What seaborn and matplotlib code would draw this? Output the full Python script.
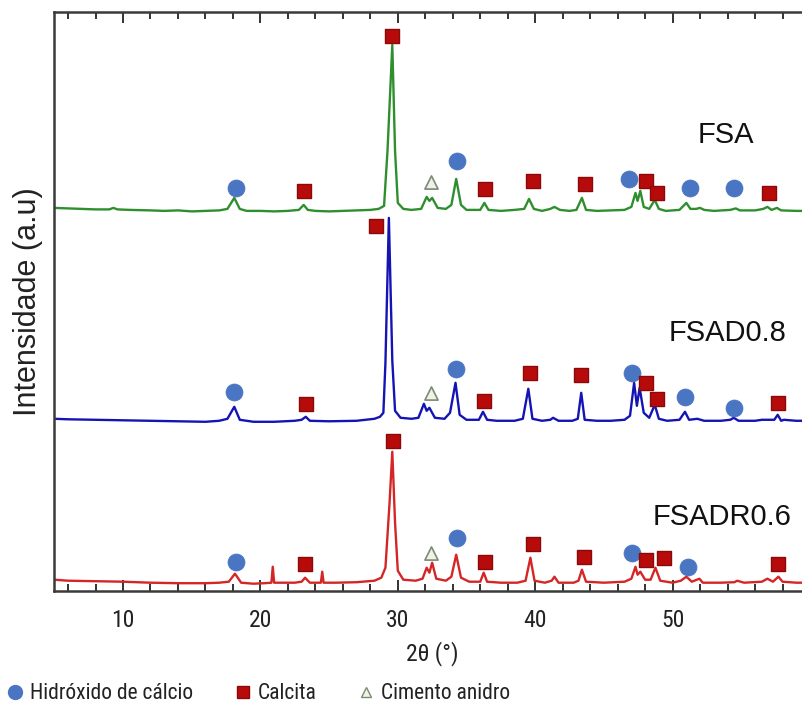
import numpy as np
import pandas as pd
import matplotlib
matplotlib.use("Agg")
import matplotlib.pyplot as plt
from matplotlib import font_manager
from matplotlib.font_manager import FontProperties
from matplotlib.lines import Line2D
import seaborn as sns

# ---------------------------------------------------------------- data
# Diffractogram traces: 2theta (deg) and intensity above each trace's baseline
fsa_2theta = [5.0, 6.0, 7.0, 8.0, 9.0, 9.3, 9.6, 10.5, 12.0, 13.0, 14.0, 15.0, 16.0, 17.0,
              17.6, 18.1, 18.5, 19.0, 20.0, 21.0, 22.0, 22.8, 23.15, 23.45, 24.0, 25.0,
              26.0, 27.0, 28.0, 28.6, 29.0, 29.25, 29.6, 29.8, 30.0, 30.4, 31.0, 31.7,
              32.1, 32.3, 32.5, 32.9, 33.5, 33.9, 34.25, 34.6, 35.0, 36.0, 36.3, 36.6,
              37.5, 38.5, 39.2, 39.55, 39.9, 40.5, 41.1, 41.4, 41.8, 42.5, 43.0, 43.4,
              43.7, 44.5, 45.5, 46.5, 47.0, 47.3, 47.45, 47.65, 47.9, 48.3, 48.7, 49.0,
              49.5, 50.5, 51.0, 51.3, 51.7, 52.0, 52.3, 53.0, 54.2, 54.6, 54.9, 56.0,
              56.6, 56.9, 57.2, 57.6, 57.9, 59.0, 60.0]
fsa_counts = [3, 2.5, 2, 1.5, 1.5, 3, 1.5, 1, 0.5, 0, 0.5, -0.5, 0, 0.5,
              2, 13, 2, 0, 0, -0.5, 0, 1, 6, 1, 0, -0.5,
              0, 0.5, 1, 2, 5, 60, 166, 60, 8, 2, 1, 2,
              14, 10, 13, 3, 2, 6, 32, 6, 1, 1, 8, 1,
              0, 1, 2, 12, 2, 0, 2, 4, 1, 0, 1, 13,
              1, 0, 0.5, 1, 4, 18, 10, 20, 4, 2, 11, 2,
              0, 1, 8, 2, 2, 3, 1, 0, 1, 2.5, 0.5, 0.5,
              2, 4, 1, 3, 0.5, 0, 0]

fsad_2theta = [5.0, 6.0, 8.0, 10.0, 12.0, 14.0, 16.0, 17.0, 17.6, 18.1, 18.5, 19.5, 21.0,
               22.5, 23.0, 23.3, 23.6, 25.0, 27.0, 28.3, 28.7, 28.95, 29.1, 29.35,
               29.6, 29.8, 30.2, 31.0, 31.5, 31.9, 32.1, 32.3, 32.7, 33.4, 33.8, 34.2,
               34.5, 35.0, 35.9, 36.2, 36.5, 37.2, 38.5, 39.1, 39.5, 39.8, 40.5, 41.1,
               41.3, 41.7, 42.7, 43.1, 43.35, 43.6, 44.5, 45.5, 46.5, 46.9, 47.2, 47.4,
               47.6, 47.9, 48.3, 48.7, 49.0, 49.6, 50.5, 50.9, 51.2, 51.8, 52.3, 53.5,
               54.2, 54.45, 54.8, 56.0, 56.5, 57.4, 57.65, 57.9, 58.1, 59.0, 60.0]
fsad_counts = [2, 1.5, 1, 0.5, 0, -0.5, -1, 0, 2, 14, 1, -1, -1,
               0, 1, 4, 0, -0.5, 0, 2, 4, 8, 58, 203,
               60, 10, 3, 2, 3, 17, 10, 13, 3, 2, 8, 38,
               6, 1, 1, 9, 1, 0, 0, 2, 32, 2, 0, 1,
               3, 0, 0, 2, 28, 1, 0, 0, 1, 5, 38, 15,
               33, 8, 3, 16, 2, 0, 1, 9, 1, 2, 0, 0,
               1, 3, 0, 0, 1, 1, 6, 0, 1, 0, 0]

fsadr_2theta = [5.0, 6.0, 8.0, 10.0, 12.0, 14.0, 16.0, 17.0, 17.7, 18.15, 18.6, 19.5, 20.3,
                20.8, 20.9, 21.0, 22.5, 23.0, 23.25, 23.6, 24.4, 24.5, 24.6, 25.5, 27.0,
                28.3, 28.8, 29.1, 29.4, 29.6, 29.8, 30.0, 30.4, 31.3, 31.8, 32.1, 32.3,
                32.5, 32.8, 33.5, 33.9, 34.25, 34.6, 35.2, 36.0, 36.25, 36.5, 37.5, 38.7,
                39.3, 39.65, 39.95, 40.7, 41.2, 41.4, 41.7, 42.8, 43.15, 43.4, 43.7, 45.0,
                46.5, 47.0, 47.3, 47.45, 47.65, 48.0, 48.4, 48.75, 49.1, 50.0, 50.6, 51.0,
                51.4, 51.95, 52.2, 53.5, 54.5, 54.7, 55.2, 56.5, 56.9, 57.3, 57.7, 58.0,
                59.0, 60.0]
fsadr_counts = [3, 2, 1.5, 1, 0, -0.5, -0.5, 0, 1, 9, 0, -1, -0.5,
                0, 16, 0, 0, 1, 5, 0, 0, 11, 0, 0, 0.5,
                2, 5, 15, 80, 131, 60, 12, 3, 2, 4, 15, 10,
                20, 4, 2, 6, 28, 5, 1, 1, 10, 1, 0, 0,
                2, 25, 2, 0, 2, 6, 0, 0, 2, 13, 1, 0,
                1, 4, 16, 8, 11, 3, 3, 15, 2, 0, 2, 6,
                1, 4, 0, 0, 0.5, 2, 0, 1, 4, 1, 6, 1,
                0, 0]

sample_names = ["FSA", "FSAD0.8", "FSADR0.6"]
stack_offsets = [380, 170, 8]

# Phase identification markers (2theta, stacked intensity)
hidroxido_x = [18.2, 34.3, 46.8, 51.3, 54.5,
               18.1, 34.2, 47.05, 50.9, 54.5,
               18.2, 34.3, 47.05, 51.1]
hidroxido_y = [403, 430, 412, 403, 403,
               199, 222, 218, 194, 183,
               29, 53, 38, 24]

calcita_x = [23.2, 29.6, 36.35, 39.85, 43.6, 48.1, 48.9, 57.0,
             23.3, 28.4, 36.27, 39.6, 43.35, 48.1, 48.9, 57.7,
             23.25, 29.65, 36.35, 39.85, 43.55, 48.05, 49.4, 57.7]
calcita_y = [400, 555, 402, 410, 407, 410, 398, 398,
             187, 365, 190, 218, 216, 208, 192, 188,
             27, 150, 29, 47, 34, 31, 33, 27]

cimento_x = [32.4, 32.4, 32.4]
cimento_y = [409, 198, 38]

legend_labels = ["Hidróxido de cálcio", "Calcita", "Cimento anidro"]
label_pos_x = [53.9, 54.0, 53.6]
label_pos_y = [456, 258, 74]

# ---------------------------------------------------------------- style
sns.set_theme(style="white")
plt.rcParams["font.family"] = ["Liberation Sans", "DejaVu Sans"]


def condensed_font():
    """Pick an installed narrow/condensed sans face for the axis texts."""
    prefs = ["LiberationSansNarrow-Regular", "RobotoCondensed-Regular",
             "DejaVuSansCondensed.", "OpenSans_Condensed-Regular",
             "OpenSansCondensed-Light", "Roboto_Condensed-Regular"]
    files = [f.fname for f in font_manager.fontManager.ttflist]
    for p in prefs:
        for fn in files:
            if p.lower() in fn.lower().replace(" ", ""):
                return FontProperties(fname=fn)
    for fn in files:
        low = fn.lower()
        if ("narrow" in low or "condensed" in low) and "bold" not in low \
                and "italic" not in low and "oblique" not in low and "mono" not in low:
            return FontProperties(fname=fn)
    return FontProperties(family="Liberation Sans")


narrow_fp = condensed_font()

line_colors = ["#2f8f2f", "#1414b4", "#d42626"]
c_circle = "#4a75c2"
c_square = "#b70b0b"
c_square_edge = "#8a0a0a"
c_tri_face = "#eef2e8"
c_tri_edge = "#7d8a74"

frames = []
for name, tt, cnt, off in zip(sample_names,
                              [fsa_2theta, fsad_2theta, fsadr_2theta],
                              [fsa_counts, fsad_counts, fsadr_counts],
                              stack_offsets):
    frames.append(pd.DataFrame({"two_theta": tt,
                                "intensity": np.asarray(cnt, float) + off,
                                "sample": name}))
traces = pd.concat(frames, ignore_index=True)

fig = plt.figure(figsize=(8.03, 7.11), dpi=100)
ax = fig.add_axes([54.3 / 803, 1 - 590.7 / 711, (810 - 54.3) / 803, (590.7 - 12) / 711])

sns.lineplot(data=traces, x="two_theta", y="intensity", hue="sample",
             palette=dict(zip(sample_names, line_colors)), sort=False,
             estimator=None, units="sample", linewidth=1.7, legend=False, ax=ax)

sns.scatterplot(x=hidroxido_x, y=hidroxido_y, marker="o", s=150, color=c_circle,
                edgecolor=c_circle, linewidth=0.5, ax=ax, zorder=5)
sns.scatterplot(x=calcita_x, y=calcita_y, marker="s", s=95, color=c_square,
                edgecolor=c_square_edge, linewidth=1.0, ax=ax, zorder=5)
sns.scatterplot(x=cimento_x, y=cimento_y, marker="^", s=90, color=c_tri_face,
                edgecolor=c_tri_edge, linewidth=1.2, ax=ax, zorder=5)

for name, lx, ly in zip(sample_names, label_pos_x, label_pos_y):
    ax.text(lx, ly, name, ha="center", va="center", fontsize=21,
            color="#111111", family=["Liberation Sans", "DejaVu Sans"])

ax.set_xlim(5, 60)
ax.set_ylim(0, 579)
ax.set_xticks([10, 20, 30, 40, 50])
ax.set_xticks(np.arange(6, 60, 2), minor=True)
ax.set_yticks([])
ax.tick_params(axis="x", which="both", direction="in", top=True, bottom=True,
               labeltop=False, color="#333333", width=1.4)
ax.tick_params(axis="x", which="major", length=8, pad=13)
ax.tick_params(axis="x", which="minor", length=5)
tick_fp = narrow_fp.copy()
tick_fp.set_size(17)
for lbl in ax.get_xticklabels():
    lbl.set_fontproperties(tick_fp)
    lbl.set_color("#222222")

for side in ["left", "top", "bottom"]:
    ax.spines[side].set_color("#3a3a3a")
    ax.spines[side].set_linewidth(1.8)
ax.spines["right"].set_visible(False)

xlab_fp = narrow_fp.copy()
xlab_fp.set_size(17)
ax.set_xlabel("2θ (°)", fontproperties=xlab_fp, color="#222222", labelpad=7)
ax.set_ylabel("Intensidade (a.u)", fontsize=22, color="#222222", labelpad=8,
              family=["Liberation Sans", "DejaVu Sans"])

handles = [
    Line2D([], [], linestyle="none", marker="o", markersize=10,
           markerfacecolor=c_circle, markeredgecolor=c_circle),
    Line2D([], [], linestyle="none", marker="s", markersize=9,
           markerfacecolor=c_square, markeredgecolor=c_square_edge),
    Line2D([], [], linestyle="none", marker="^", markersize=7,
           markerfacecolor=c_tri_face, markeredgecolor=c_tri_edge),
]
leg_fp = narrow_fp.copy()
leg_fp.set_size(15.5)
fig.legend(handles, legend_labels, loc="lower left", bbox_to_anchor=(-0.016, -0.018),
           ncol=3, frameon=False, handlelength=0.8, handletextpad=0.3,
           columnspacing=1.9, prop=leg_fp, labelcolor="#222222")

fig.savefig("out.png", dpi=100, facecolor="white")
